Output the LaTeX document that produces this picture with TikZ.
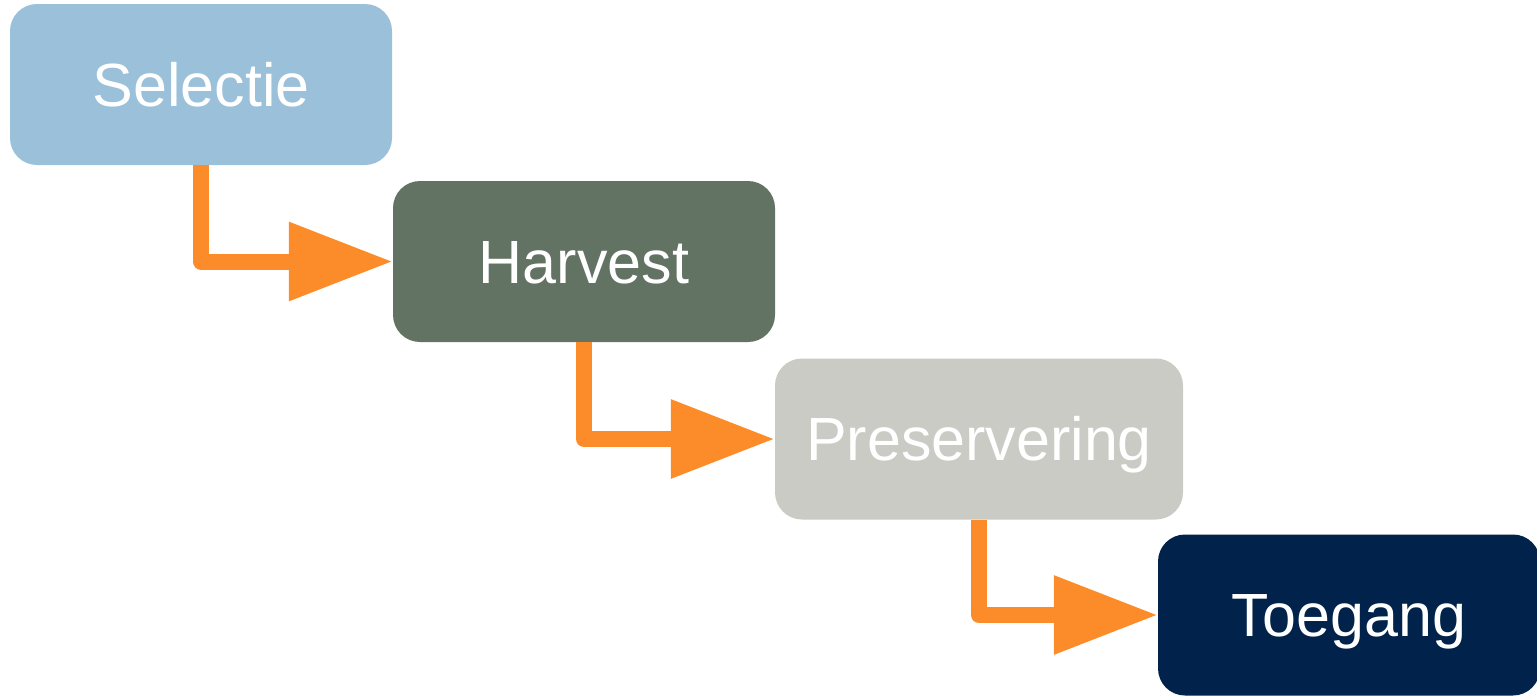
\documentclass[tikz,border=0pt]{standalone}
\usepackage{fontspec}
\setmainfont{Liberation Sans}
\usetikzlibrary{arrows.meta}
\definecolor{cSel}{HTML}{9BC0D9}
\definecolor{cHar}{HTML}{637363}
\definecolor{cPre}{HTML}{C9CBC4}
\definecolor{cToe}{HTML}{00224B}
\definecolor{cArr}{HTML}{FC8C2A}
\begin{document}
\begin{tikzpicture}[x=1pt,y=-1pt,
  stage/.style={draw=none, rounded corners=27pt, minimum width=382pt, minimum height=161pt,
    inner sep=0pt, text=white, font=\fontsize{61}{68}\selectfont,
    text height=43.7pt, text depth=0pt},
  flow/.style={draw=cArr, line width=16pt, line join=round,
    -{Triangle[length=104pt,width=75pt]}}]
\useasboundingbox (0,0) rectangle (1537,696);
\node[stage, fill=cSel] (sel) at (201,84.5) {Selectie};
\node[stage, fill=cHar] (har) at (584,261.5) {Harvest};
\node[stage, fill=cPre, minimum width=408pt] (pre) at (979,439) {Preservering};
\node[stage, fill=cToe] (toe) at (1349,615) {Toegang};
\draw[flow] (sel.south) |- (har.west);
\draw[flow] (har.south) |- (pre.west);
\draw[flow] (pre.south) |- (toe.west);
\end{tikzpicture}
\end{document}
